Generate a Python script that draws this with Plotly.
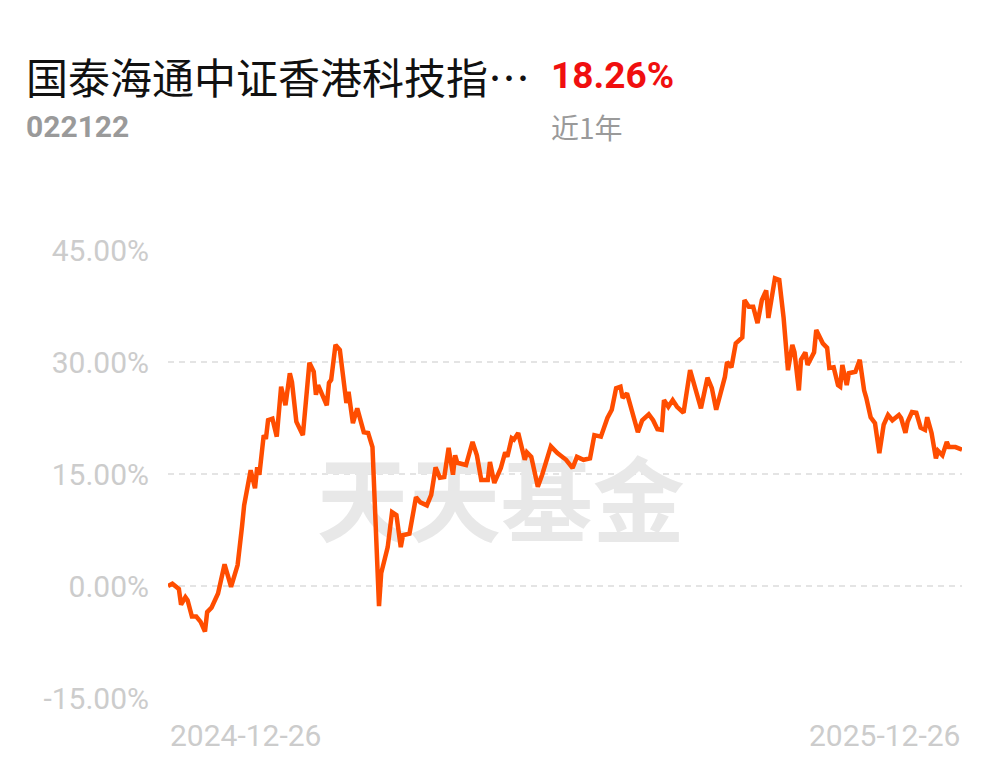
import datetime as dt
import plotly.graph_objects as go

# ---- data ----
start_date = dt.date(2024, 12, 26)
day_offsets = [0, 2, 5, 6, 8, 9, 11, 13, 15, 17, 18, 20, 23, 26, 29, 31, 32, 34, 35, 38,
               40, 41, 42, 44, 45, 46, 48, 50, 52, 54, 56, 57, 59, 62, 65, 67, 68, 69, 73, 74,
               75, 77, 79, 82, 83, 85, 87, 90, 92, 94, 97, 98, 101, 103, 105, 107, 108, 111, 114, 116,
               119, 121, 123, 125, 127, 129, 131, 132, 133, 137, 140, 142, 144, 147, 148, 150, 153, 155, 156, 158,
               159, 161, 164, 165, 167, 170, 172, 176, 179, 183, 186, 188, 191, 194, 196, 199, 200, 202, 204, 206,
               208, 209, 211, 213, 216, 218, 221, 223, 225, 227, 228, 230, 232, 234, 237, 240, 242, 245, 248, 250,
               252, 254, 256, 257, 259, 261, 264, 265, 267, 269, 271, 273, 275, 276, 279, 281, 283, 285, 287, 288,
               290, 291, 293, 294, 297, 298, 301, 303, 304, 306, 308, 309, 310, 312, 313, 316, 318, 320, 321, 323,
               325, 327, 329, 331, 333, 336, 337, 339, 340, 342, 344, 346, 348, 349, 351, 353, 354, 356, 358, 359,
               362, 365]
returns = [0.0, 0.3, -0.4, -2.5, -1.5, -1.9, -4.1, -4.1, -4.8, -6.1, -3.5, -2.9, -1.0, 2.9, -0.1, 2.1, 2.8, 7.9, 10.8, 15.5,
           13.1, 15.9, 14.9, 20.2, 19.7, 22.2, 22.4, 20.0, 26.7, 24.2, 28.5, 27.3, 22.0, 20.2, 29.9, 28.7, 25.6, 26.9, 24.2, 27.2,
           27.6, 32.3, 31.6, 24.5, 26.0, 21.8, 23.8, 20.6, 20.5, 18.6, -2.7, 1.7, 5.2, 9.9, 9.5, 5.2, 6.8, 7.0, 11.9, 11.2,
           10.8, 12.2, 15.9, 14.5, 14.6, 18.5, 14.9, 17.5, 16.5, 16.2, 19.3, 17.5, 14.2, 14.2, 16.6, 13.8, 15.8, 17.9, 17.3, 19.8,
           19.6, 20.5, 16.9, 17.9, 17.3, 13.3, 14.9, 18.7, 17.8, 16.9, 15.8, 17.3, 16.9, 17.1, 20.2, 20.0, 20.9, 22.5, 23.6, 26.5,
           26.7, 25.2, 25.8, 23.6, 20.6, 22.2, 23.0, 22.2, 21.0, 20.9, 24.9, 24.0, 24.9, 24.0, 23.2, 28.9, 26.9, 23.8, 27.9, 26.5,
           23.6, 26.0, 28.0, 30.0, 29.3, 32.5, 33.3, 38.3, 37.4, 37.4, 35.2, 38.3, 39.6, 35.9, 41.2, 41.0, 35.9, 28.9, 32.3, 31.3,
           26.2, 30.3, 31.3, 29.6, 31.3, 34.3, 32.5, 31.9, 29.2, 29.3, 26.9, 26.7, 29.6, 26.9, 28.5, 28.7, 30.3, 26.2, 25.2, 22.6,
           21.8, 17.8, 21.6, 22.9, 22.2, 22.9, 22.5, 20.5, 22.0, 23.3, 23.2, 21.2, 20.9, 22.6, 20.5, 17.1, 18.1, 17.5, 19.3, 18.6,
           18.6, 18.26]
y_ticks = [-15, 0, 15, 30, 45]
y_tick_labels = ["-15.00%", "0.00%", "15.00%", "30.00%", "45.00%"]
x_labels = ["2024-12-26", "2025-12-26"]
fund_name = "国泰海通中证香港科技指…"
fund_code = "022122"
period_return = "18.26%"
period_label = "近1年"
watermark = "天天基金"

dates = [start_date + dt.timedelta(days=d) for d in day_offsets]
end_date = dates[-1]

fig = go.Figure()

# watermark behind the line
fig.add_trace(go.Scatter(
    x=[start_date + dt.timedelta(days=153)], y=[9.9],
    mode="text", text=[watermark],
    textfont=dict(family="Noto Sans CJK SC", size=92, color="#e8e8e8", weight="bold"),
    textposition="middle center", hoverinfo="skip", showlegend=False))

fig.add_trace(go.Scatter(
    x=dates, y=returns, mode="lines",
    line=dict(color="#FF4D00", width=4.5),
    hoverinfo="skip", showlegend=False))

fig.update_layout(
    width=993, height=759,
    margin=dict(l=160, r=39, t=242, b=69),
    paper_bgcolor="white", plot_bgcolor="white",
    font=dict(family="Roboto"),
    xaxis=dict(range=[start_date, end_date], showgrid=False, zeroline=False,
               showline=False, showticklabels=False, ticks=""),
    yaxis=dict(range=[-15, 45], tickvals=y_ticks, ticktext=y_tick_labels,
               showgrid=True, gridcolor="#e4e4e4", griddash="6px,5px", gridwidth=1.5,
               zeroline=False, showline=False, ticks="", ticklabelstandoff=18,
               tickfont=dict(family="Roboto", size=30, color="#cccccc")),
)

ann = []
ann.append(dict(x=start_date, y=-0.083, xref="x", yref="paper", text=x_labels[0],
                xanchor="left", yanchor="middle", showarrow=False,
                font=dict(family="Roboto", size=30, color="#cccccc")))
ann.append(dict(x=end_date, y=-0.083, xref="x", yref="paper", text=x_labels[1],
                xanchor="right", yanchor="middle", showarrow=False,
                font=dict(family="Roboto", size=30, color="#cccccc")))
ann.append(dict(x=-0.1813, y=1.3906, xref="paper", yref="paper", text=fund_name,
                xanchor="left", yanchor="middle", showarrow=False,
                font=dict(family="Noto Sans CJK SC", size=42, color="#111111")))
ann.append(dict(x=0.4799, y=1.3906, xref="paper", yref="paper", text=f"<b>{period_return}</b>",
                xanchor="left", yanchor="middle", showarrow=False,
                font=dict(family="Roboto", size=37, color="#F00F0F")))
ann.append(dict(x=-0.1813, y=1.2746, xref="paper", yref="paper", text=f"<b>{fund_code}</b>",
                xanchor="left", yanchor="middle", showarrow=False,
                font=dict(family="Roboto", size=30, color="#9a9a9a")))
ann.append(dict(x=0.4799, y=1.2746, xref="paper", yref="paper", text=period_label,
                xanchor="left", yanchor="middle", showarrow=False,
                font=dict(family="Noto Sans CJK SC", size=28, color="#9a9a9a")))
fig.update_layout(annotations=ann)

fig.write_html("out.html")
